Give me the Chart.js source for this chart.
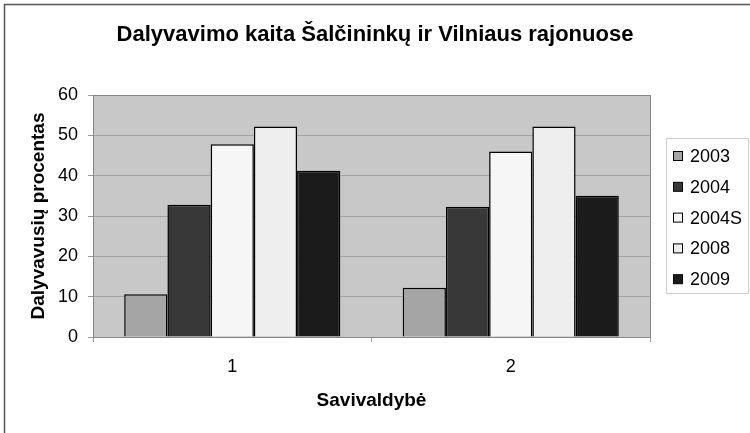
<!DOCTYPE html>
<html>
<head>
<meta charset="utf-8">
<script src="https://cdn.jsdelivr.net/npm/chart.js@4"></script>
<style>
  html, body { margin: 0; padding: 0; background: #fff; }
  #wrap { width: 750px; height: 433px; }
</style>
</head>
<body>
<div id="wrap"><canvas id="barchart"></canvas></div>
<script>
// data
const categories = ['1', '2'];
const seriesNames = ['2003', '2004', '2004S', '2008', '2009'];
const values2003 = [10.6, 12.2];
const values2004 = [32.8, 32.3];
const values2004S = [47.8, 46.0];
const values2008 = [52.2, 52.2];
const values2009 = [41.2, 35.0];
const yTicks = [0, 10, 20, 30, 40, 50, 60];

const fills = ['#a5a5a5', '#383838', '#f6f6f6', '#eeeeee', '#1b1b1b'];
const FONT = 'Arial, "Liberation Sans", sans-serif';

// grey plot background + thin frame on the top/left of the page
const backdrop = {
    id: 'backdrop',
    beforeDraw(chart) {
        const { ctx, chartArea: a } = chart;
        ctx.save();
        ctx.fillStyle = '#c8c8c8';
        ctx.fillRect(a.left, a.top, a.right - a.left, a.bottom - a.top);
        ctx.strokeStyle = '#555';
        ctx.lineWidth = 1.5;
        ctx.beginPath();
        ctx.moveTo(4.5, 433);
        ctx.lineTo(4.5, 4.5);
        ctx.lineTo(750, 4.5);
        ctx.stroke();
        ctx.restore();
    },
    afterDatasetsDraw(chart) {
        const { ctx, chartArea: a } = chart;
        ctx.save();
        ctx.strokeStyle = '#888';
        ctx.lineWidth = 1;
        ctx.strokeRect(a.left + 0.5, a.top + 0.5, a.right - a.left, a.bottom - a.top);
        ctx.restore();
    }
};

// boxed legend on the right, like the original
const sideLegend = {
    id: 'sideLegend',
    afterDraw(chart) {
        const ctx = chart.ctx;
        const x0 = 666, y0 = 138, w = 82, h = 155;
        ctx.save();
        ctx.strokeStyle = '#cfcfcf';
        ctx.lineWidth = 1;
        ctx.strokeRect(x0 + 0.5, y0 + 0.5, w, h);
        ctx.font = '18px ' + FONT;
        ctx.textBaseline = 'middle';
        chart.data.datasets.forEach((ds, i) => {
            const cy = 156 + i * 30.8;
            ctx.fillStyle = ds.backgroundColor;
            ctx.fillRect(673.5, cy - 4.5, 9, 9);
            ctx.strokeStyle = '#000';
            ctx.strokeRect(673.5, cy - 4.5, 9, 9);
            ctx.fillStyle = '#000';
            ctx.fillText(ds.label, 690, cy + 1);
        });
        ctx.restore();
    }
};

const allValues = [values2003, values2004, values2004S, values2008, values2009];

new Chart(document.getElementById('barchart').getContext('2d'), {
    type: 'bar',
    data: {
        labels: categories,
        datasets: seriesNames.map((name, i) => ({
            label: name,
            data: allValues[i],
            backgroundColor: fills[i],
            borderColor: '#000',
            borderWidth: 1.5,
            categoryPercentage: 0.776,
            barPercentage: 1
        }))
    },
    options: {
        responsive: true,
        maintainAspectRatio: false,
        animation: false,
        layout: { padding: 0 },
        plugins: {
            legend: { display: false },
            tooltip: { enabled: false },
            title: {
                display: true,
                text: 'Dalyvavimo kaita Šalčininkų ir Vilniaus rajonuose',
                color: '#000',
                font: { family: FONT, size: 22, weight: 'bold', lineHeight: 1.2 },
                padding: { top: 22, bottom: 46.6 }
            }
        },
        scales: {
            x: {
                afterFit(scale) { scale.height = 96; },
                border: { color: '#666', width: 1 },
                grid: { drawOnChartArea: false, tickLength: 5, color: '#999' },
                ticks: { color: '#000', font: { family: FONT, size: 18 }, padding: 14 },
                title: {
                    display: true,
                    text: 'Savivaldybė',
                    color: '#000',
                    font: { family: FONT, size: 19, weight: 'bold', lineHeight: 1.2 },
                    padding: { top: 0, bottom: 21 }
                }
            },
            y: {
                min: 0,
                max: 60,
                afterFit(scale) { scale.width = 93; },
                afterBuildTicks(scale) { scale.ticks = yTicks.map(v => ({ value: v })); },
                border: { color: '#888', width: 1 },
                grid: { color: '#a4a4a4', tickLength: 5, tickColor: '#999' },
                ticks: { color: '#000', font: { family: FONT, size: 18 }, padding: 10 },
                title: {
                    display: true,
                    text: 'Dalyvavusių procentas',
                    color: '#000',
                    font: { family: FONT, size: 19, weight: 'bold', lineHeight: 1.2 },
                    padding: { top: 27, bottom: 0 }
                }
            },
            // empty right-hand strip that keeps room for the legend
            spacer: {
                position: 'right',
                display: true,
                afterFit(scale) { scale.width = 100; },
                grid: { display: false },
                border: { display: false },
                ticks: { display: false }
            }
        }
    },
    plugins: [backdrop, sideLegend]
});
</script>
</body>
</html>
